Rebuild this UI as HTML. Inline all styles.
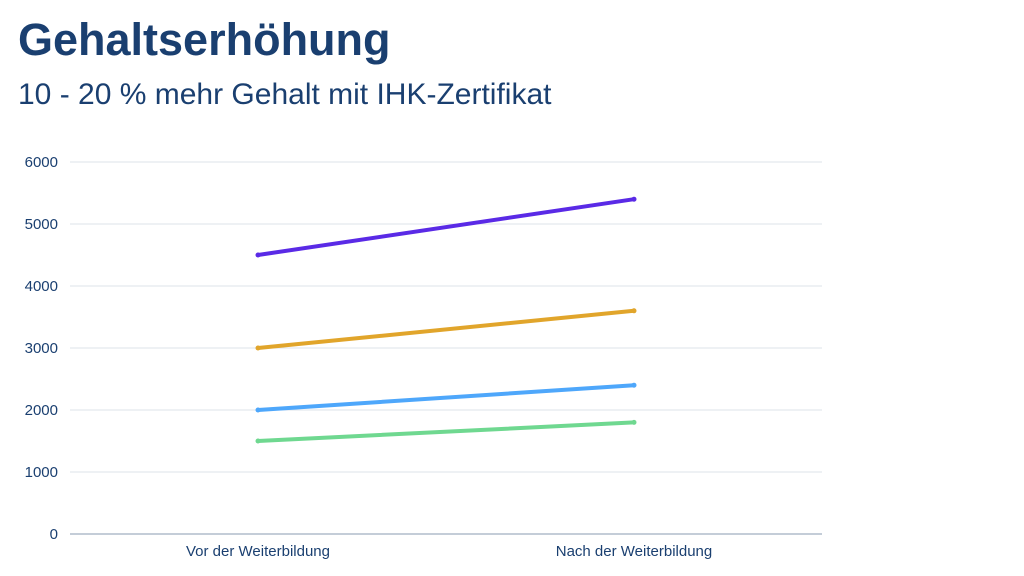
<!DOCTYPE html>
<html><head><meta charset="utf-8"><style>
body{margin:0;width:1024px;height:576px;background:#fff;font-family:"Liberation Sans",sans-serif;overflow:hidden;position:relative}
#t{position:absolute;left:18px;top:14px;font-size:45px;font-weight:bold;color:#1a3f70;margin:0}
#s{position:absolute;left:18px;top:78px;font-size:30px;color:#1a3f70;margin:0}
svg{position:absolute;left:0;top:0}
</style></head><body>
<h1 id="t">Gehaltserhöhung</h1>
<p id="s">10 - 20 % mehr Gehalt mit IHK-Zertifikat</p>
<svg id="c" width="1024" height="576"></svg>
<script>
const categories=["Vor der Weiterbildung","Nach der Weiterbildung"];
const purple=[4500,5400];
const orange=[3000,3600];
const blue=[2000,2400];
const green=[1500,1800];
const ticks=[0,1000,2000,3000,4000,5000,6000];
const series=[[purple,"#5a2ae6","series-purple"],[orange,"#e1a52b","series-orange"],[blue,"#4ea7fb","series-blue"],[green,"#6fd890","series-green"]];
const L=70,R=822,T=162,B=534,max=6000;
const y=v=>B-(v/max)*(B-T);
const bw=(R-L)/categories.length;
const x=i=>L+bw*(i+0.5);
const svg=document.getElementById('c');
const NS="http://www.w3.org/2000/svg";
function mk(tag,a){const e=document.createElementNS(NS,tag);for(const k in a)e.setAttribute(k,a[k]);svg.appendChild(e);return e;}
ticks.forEach(t=>{
 const g=mk('line',{x1:L,x2:R,y1:y(t),y2:y(t),stroke:t===0?'#8a9bb0':'#dde3ea','stroke-width':1});
 
 
 const tx=mk('text',{x:58,y:y(t)+5,'text-anchor':'end','font-size':15,fill:'#1a3f70'});
 tx.textContent=t;
 
 
});
categories.forEach((c,i)=>{
 const tx=mk('text',{x:x(i),y:556,'text-anchor':'middle','font-size':15,fill:'#1a3f70'});
 tx.textContent=c;
 
 
});
series.forEach(([d,col,n])=>{
 const p=mk('polyline',{points:d.map((v,i)=>x(i)+','+y(v)).join(' '),fill:'none',stroke:col,'stroke-width':4,'stroke-linecap':'round'});
 
 
 d.forEach((v,i)=>{
  const c=mk('circle',{cx:x(i),cy:y(v),r:2.5,fill:col});
  
  
 });
});
</script>
</body></html>
